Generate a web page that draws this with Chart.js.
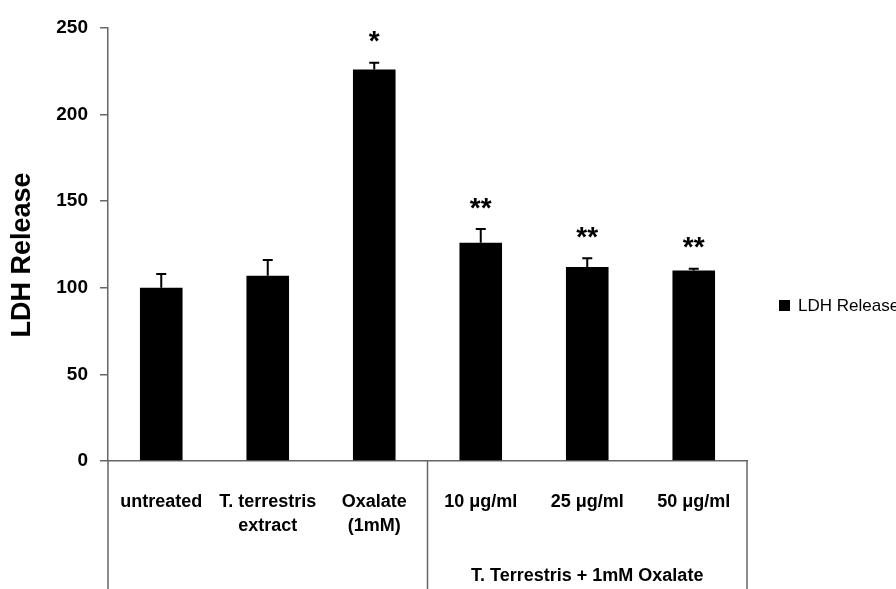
<!DOCTYPE html>
<html>
<head>
<meta charset="utf-8">
<script src="https://cdn.jsdelivr.net/npm/chart.js@4"></script>
<style>
  html, body { margin: 0; padding: 0; background: #fff; overflow: hidden; }
  #wrap { width: 896px; height: 589px; position: relative; }
</style>
</head>
<body>
<div id="wrap"><canvas id="myChart"></canvas></div>
<script>
// data
const categories = [['untreated'], ['T. terrestris', 'extract'], ['Oxalate', '(1mM)'], '10 μg/ml', '25 μg/ml', '50 μg/ml'];
const ldhValues = [100, 107, 226, 126, 112, 110];
const ldhErrors = [8, 9, 4, 8, 5, 1];
const stars = ['', '', '*', '**', '**', '**'];
const yTicks = [0, 50, 100, 150, 200, 250];
const groupLabel = 'T. Terrestris + 1mM Oxalate';
const seriesName = 'LDH Release';

const FONT = '"Liberation Sans", Arial, sans-serif';
const AXIS = '#666';

// error bars, stars, y title, group divider lines and legend
const extras = {
    id: 'extras',
    afterDatasetsDraw(chart) {
        const ctx = chart.ctx;
        const x = chart.scales.x;
        const y = chart.scales.y;
        const area = chart.chartArea;
        ctx.save();
        ctx.strokeStyle = '#000';
        ctx.lineWidth = 2;
        ldhValues.forEach(function(v, i) {
            const px = x.getPixelForValue(i);
            const top = y.getPixelForValue(v + ldhErrors[i]);
            ctx.beginPath();
            ctx.moveTo(px, y.getPixelForValue(v));
            ctx.lineTo(px, top);
            ctx.moveTo(px - 5, top);
            ctx.lineTo(px + 5, top);
            ctx.stroke();
            if (stars[i]) {
                ctx.fillStyle = '#000';
                ctx.font = 'bold 28px ' + FONT;
                ctx.textAlign = 'center';
                ctx.textBaseline = 'middle';
                ctx.fillText(stars[i], px, top - 20);
            }
        });

        // y axis title
        ctx.save();
        ctx.translate(23, 255);
        ctx.rotate(-Math.PI / 2);
        ctx.fillStyle = '#000';
        ctx.font = 'bold 27px ' + FONT;
        ctx.textAlign = 'center';
        ctx.textBaseline = 'middle';
        ctx.fillText(seriesName, 0, 0);
        ctx.restore();

        // divider lines under the axis
        const step = (area.right - area.left) / categories.length;
        ctx.strokeStyle = AXIS;
        ctx.lineWidth = 1.5;
        [area.left, area.left + step * 3, area.right].forEach(function(lx) {
            ctx.beginPath();
            ctx.moveTo(lx, area.bottom);
            ctx.lineTo(lx, chart.height);
            ctx.stroke();
        });

        ctx.fillStyle = '#000';
        ctx.font = 'bold 18px ' + FONT;
        ctx.textAlign = 'center';
        ctx.textBaseline = 'middle';
        ctx.fillText(groupLabel, (area.left + step * 3 + area.right) / 2, 576);

        // legend
        ctx.fillRect(779, 300, 11, 11);
        ctx.font = '17px ' + FONT;
        ctx.textAlign = 'left';
        ctx.fillText(chart.data.datasets[0].label, 798, 306);
        ctx.restore();
    }
};

const data = {
    labels: categories,
    datasets: [{
        label: seriesName,
        data: ldhValues,
        backgroundColor: '#000',
        borderWidth: 0,
        barPercentage: 0.4,
        categoryPercentage: 1.0
    }]
};

const ctx = document.getElementById('myChart').getContext('2d');
const myChart = new Chart(ctx, {
    type: 'bar',
    data: data,
    plugins: [extras],
    options: {
        responsive: true,
        maintainAspectRatio: false,
        animation: false,
        layout: { padding: { top: 28, right: 149, left: 0, bottom: 0 } },
        plugins: {
            legend: { display: false },
            tooltip: { enabled: false }
        },
        scales: {
            x: {
                grid: { display: false },
                border: { display: true, color: AXIS, width: 1.5 },
                ticks: {
                    color: '#000',
                    font: { family: FONT, size: 18, weight: 'bold', lineHeight: 1.33 },
                    padding: 21,
                    maxRotation: 0,
                    autoSkip: false
                },
                afterFit: function(scale) { scale.height = 128; }
            },
            y: {
                min: 0,
                max: 250,
                afterBuildTicks: function(scale) {
                    scale.ticks = yTicks.map(function(v) { return { value: v }; });
                },
                grid: { drawOnChartArea: false, drawTicks: true, tickLength: 8, color: AXIS, lineWidth: 1.5 },
                border: { display: true, color: AXIS, width: 1.5 },
                ticks: {
                    color: '#000',
                    font: { family: FONT, size: 19, weight: 'bold' },
                    padding: 12
                },
                afterFit: function(scale) { scale.width = 108; }
            }
        }
    }
});
</script>
</body>
</html>
